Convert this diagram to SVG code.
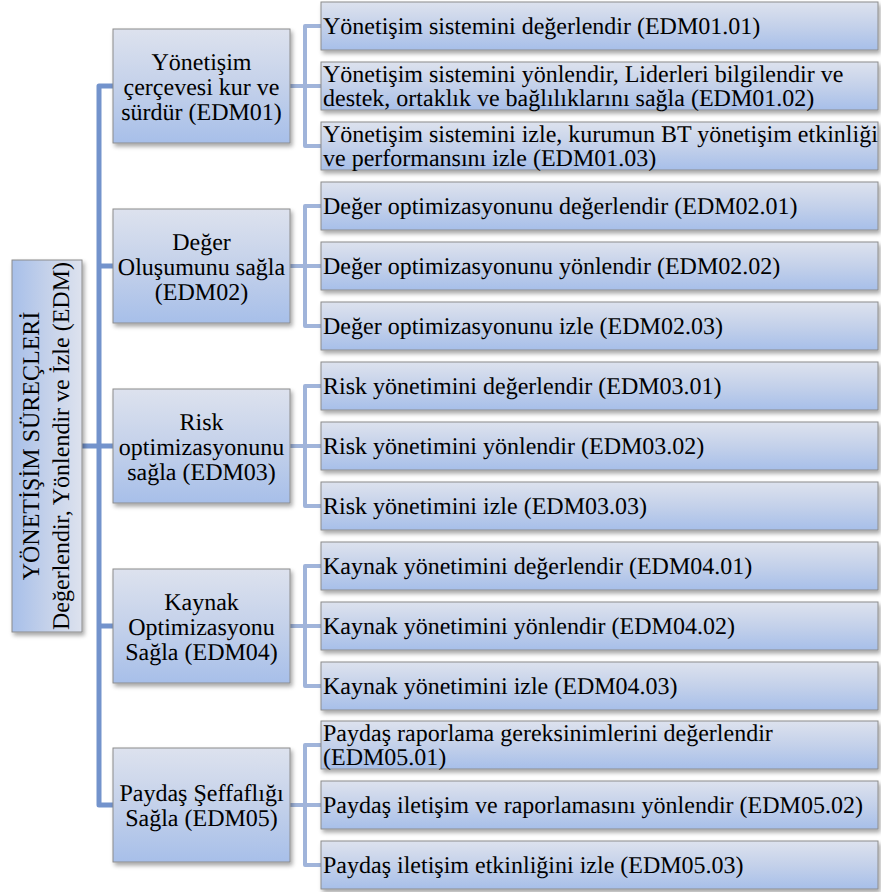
<svg xmlns="http://www.w3.org/2000/svg" width="881" height="892" viewBox="0 0 881 892">
<defs>
<linearGradient id="gv" x1="0" y1="0" x2="0" y2="1">
<stop offset="0" stop-color="#dde2ee"/>
<stop offset="0.5" stop-color="#c4d1ea"/>
<stop offset="1" stop-color="#a7bfe9"/>
</linearGradient>
<linearGradient id="gh" x1="1" y1="0" x2="0" y2="0">
<stop offset="0" stop-color="#dde2ee"/>
<stop offset="0.5" stop-color="#c4d1ea"/>
<stop offset="1" stop-color="#a7bfe9"/>
</linearGradient>
<filter id="sh" x="-10%" y="-10%" width="130%" height="130%">
<feDropShadow dx="2" dy="3" stdDeviation="2" flood-color="#000" flood-opacity="0.35"/>
</filter>
</defs>
<style>
.box{fill:url(#gv);stroke:#8c8c8c;stroke-width:1;filter:url(#sh)}
.root{fill:url(#gh);stroke:#8c8c8c;stroke-width:1;filter:url(#sh)}
.c{text-anchor:middle}
.trunk{fill:none;stroke:#7393cc;stroke-width:5;stroke-linejoin:round}
.br{fill:none;stroke:#a0b4da;stroke-width:4;stroke-linejoin:round}
</style>
<rect width="881" height="892" fill="#fff"/>
<g id="connectors">
<path class="trunk" d="M82 446H99M113 86H99V805H113M99 266H113M99 446H113M99 626H113"/>
<path class="br" d="M290 86H305M321 26H305V146H321M305 86H321"/>
<path class="br" d="M290 266H305M321 206H305V326H321M305 266H321"/>
<path class="br" d="M290 446H305M321 386H305V506H321M305 446H321"/>
<path class="br" d="M290 626H305M321 566H305V686H321M305 626H321"/>
<path class="br" d="M290 805H305M321 745H305V865H321M305 805H321"/>
</g>
<g font-family="'Liberation Serif', 'Times New Roman', serif" font-size="24" fill="#000" text-rendering="geometricPrecision">
<g id="root">
<rect class="root" x="12" y="260" width="70" height="372"/>
<text class="c" transform="translate(47,446) rotate(-90)"><tspan x="0" y="-8">YÖNETİŞİM SÜREÇLERİ</tspan><tspan x="0" y="22">Değerlendir, Yönlendir ve İzle (EDM)</tspan></text>
</g>
<g id="edm01">
<rect class="box" x="113" y="29" width="177" height="114"/>
<text class="c"><tspan x="201.5" y="70">Yönetişim</tspan><tspan x="201.5" y="95">çerçevesi kur ve</tspan><tspan x="201.5" y="120">sürdür (EDM01)</tspan></text>
</g>
<g id="edm02">
<rect class="box" x="113" y="209" width="177" height="114"/>
<text class="c"><tspan x="201.5" y="250">Değer</tspan><tspan x="201.5" y="275">Oluşumunu sağla</tspan><tspan x="201.5" y="300">(EDM02)</tspan></text>
</g>
<g id="edm03">
<rect class="box" x="113" y="389" width="177" height="114"/>
<text class="c"><tspan x="201.5" y="430">Risk</tspan><tspan x="201.5" y="455">optimizasyonunu</tspan><tspan x="201.5" y="480">sağla (EDM03)</tspan></text>
</g>
<g id="edm04">
<rect class="box" x="113" y="569" width="177" height="114"/>
<text class="c"><tspan x="201.5" y="610">Kaynak</tspan><tspan x="201.5" y="635">Optimizasyonu</tspan><tspan x="201.5" y="660">Sağla (EDM04)</tspan></text>
</g>
<g id="edm05">
<rect class="box" x="113" y="748" width="177" height="114"/>
<text class="c"><tspan x="201.5" y="801">Paydaş Şeffaflığı</tspan><tspan x="201.5" y="826">Sağla (EDM05)</tspan></text>
</g>
<g id="edm01-01">
<rect class="box" x="321" y="2" width="557" height="48"/>
<text x="323" y="34">Yönetişim sistemini değerlendir (EDM01.01)</text>
</g>
<g id="edm01-02">
<rect class="box" x="321" y="62" width="557" height="48"/>
<text><tspan x="323" y="82">Yönetişim sistemini yönlendir, Liderleri bilgilendir ve</tspan><tspan x="323" y="106">destek, ortaklık ve bağlılıklarını sağla (EDM01.02)</tspan></text>
</g>
<g id="edm01-03">
<rect class="box" x="321" y="122" width="557" height="48"/>
<text><tspan x="323" y="142">Yönetişim sistemini izle, kurumun BT yönetişim etkinliği</tspan><tspan x="323" y="166">ve performansını izle (EDM01.03)</tspan></text>
</g>
<g id="edm02-01">
<rect class="box" x="321" y="182" width="557" height="48"/>
<text x="323" y="214">Değer optimizasyonunu değerlendir (EDM02.01)</text>
</g>
<g id="edm02-02">
<rect class="box" x="321" y="242" width="557" height="48"/>
<text x="323" y="274">Değer optimizasyonunu yönlendir (EDM02.02)</text>
</g>
<g id="edm02-03">
<rect class="box" x="321" y="302" width="557" height="48"/>
<text x="323" y="334">Değer optimizasyonunu izle (EDM02.03)</text>
</g>
<g id="edm03-01">
<rect class="box" x="321" y="362" width="557" height="48"/>
<text x="323" y="394">Risk yönetimini değerlendir (EDM03.01)</text>
</g>
<g id="edm03-02">
<rect class="box" x="321" y="422" width="557" height="48"/>
<text x="323" y="454">Risk yönetimini yönlendir (EDM03.02)</text>
</g>
<g id="edm03-03">
<rect class="box" x="321" y="482" width="557" height="48"/>
<text x="323" y="514">Risk yönetimini izle (EDM03.03)</text>
</g>
<g id="edm04-01">
<rect class="box" x="321" y="542" width="557" height="48"/>
<text x="323" y="574">Kaynak yönetimini değerlendir (EDM04.01)</text>
</g>
<g id="edm04-02">
<rect class="box" x="321" y="602" width="557" height="48"/>
<text x="323" y="634">Kaynak yönetimini yönlendir (EDM04.02)</text>
</g>
<g id="edm04-03">
<rect class="box" x="321" y="662" width="557" height="48"/>
<text x="323" y="694">Kaynak yönetimini izle (EDM04.03)</text>
</g>
<g id="edm05-01">
<rect class="box" x="321" y="721" width="557" height="48"/>
<text><tspan x="323" y="741">Paydaş raporlama gereksinimlerini değerlendir</tspan><tspan x="323" y="765">(EDM05.01)</tspan></text>
</g>
<g id="edm05-02">
<rect class="box" x="321" y="781" width="557" height="48"/>
<text x="323" y="813">Paydaş iletişim ve raporlamasını yönlendir (EDM05.02)</text>
</g>
<g id="edm05-03">
<rect class="box" x="321" y="841" width="557" height="48"/>
<text x="323" y="873">Paydaş iletişim etkinliğini izle (EDM05.03)</text>
</g>
</g>
</svg>
